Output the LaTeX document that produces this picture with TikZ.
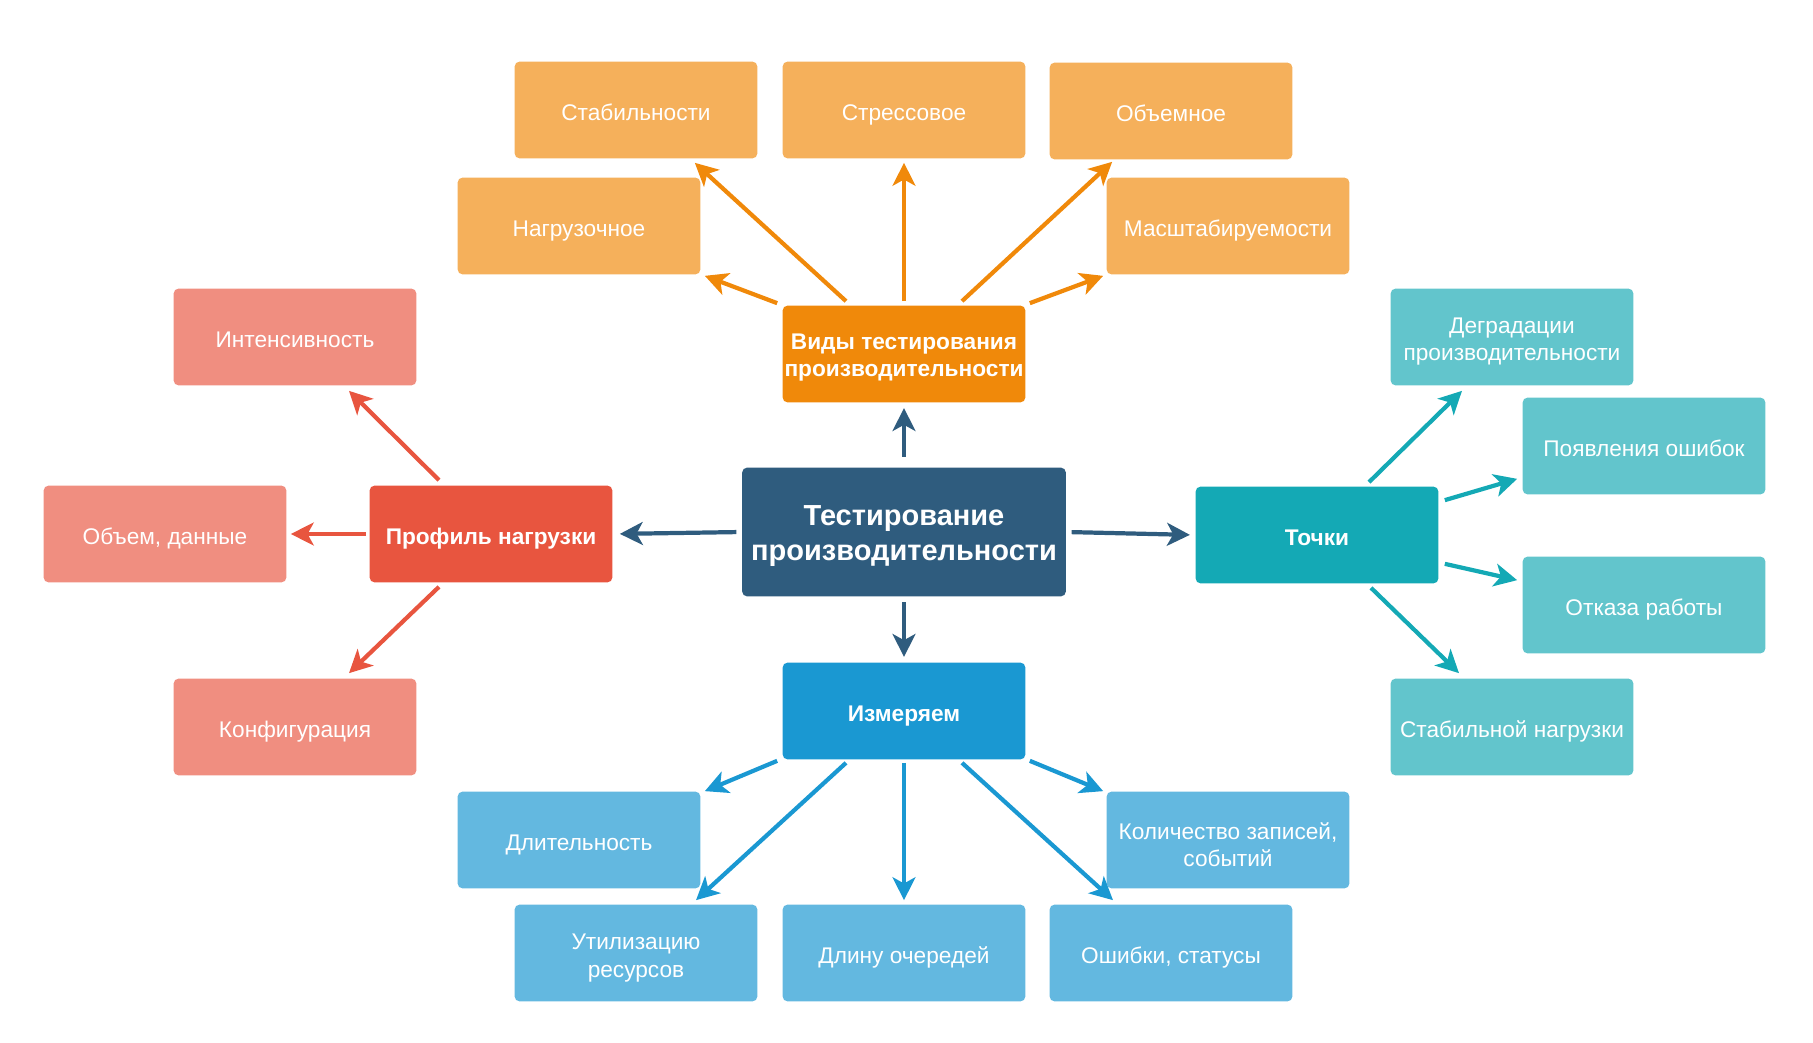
\documentclass[tikz,border=0pt]{standalone}
\usepackage{fontspec}
\setmainfont{Liberation Sans}
\usetikzlibrary{arrows.meta,calc,positioning}
\definecolor{mainblue}{HTML}{2F5C7E}
\definecolor{vidor}{HTML}{F0890A}
\definecolor{vidorl}{HTML}{F5B05B}
\definecolor{profred}{HTML}{E8553F}
\definecolor{profredl}{HTML}{F08E80}
\definecolor{tchteal}{HTML}{14A9B5}
\definecolor{tchteall}{HTML}{62C5CC}
\definecolor{izmblue}{HTML}{1A98D2}
\definecolor{izmbluel}{HTML}{63B8E0}
\newcommand{\toprule}[1]{\rule{0pt}{#1}}
\begin{document}
\begin{tikzpicture}[x=0.02cm,y=-0.02cm,
  box/.style={rounded corners=3pt, minimum width=4.86cm, minimum height=1.94cm, inner sep=0.5pt, align=center, text=white, font=\fontsize{12.9}{15.5}\selectfont},
  onebox/.style={box, text height=12pt, text depth=0.5pt},
  headbox/.style={onebox, font=\fontsize{12.9}{15.5}\selectfont\bfseries},
  arr/.style={line width=2.4pt, -{Stealth[length=13pt,width=13pt,inset=3.5pt]}}]
\useasboundingbox (0,0) rectangle (1813,1043);
\node[box, fill=mainblue, minimum width=6.48cm, minimum height=2.58cm, font=\fontsize{16.5}{19.5}\selectfont\bfseries] (main) at (904,532) {\toprule{16pt}Тестирование\\производительности};
\node[box, fill=vidor, font=\fontsize{12.9}{15.5}\selectfont\bfseries] (vid) at (904,354) {\toprule{13pt}Виды тестирования\\производительности};
\node[headbox, fill=profred] (prof) at (491,534) {Профиль нагрузки};
\node[headbox, fill=tchteal] (tochki) at (1317,535) {Точки};
\node[headbox, fill=izmblue] (izm) at (904,711) {Измеряем};
\node[onebox, fill=vidorl] (stab) at (636,110) {Стабильности};
\node[onebox, fill=vidorl] (stress) at (904,110) {Стрессовое};
\node[onebox, fill=vidorl] (obem) at (1171,111) {Объемное};
\node[onebox, fill=vidorl] (nagr) at (579,226) {Нагрузочное};
\node[onebox, fill=vidorl] (masht) at (1228,226) {Масштабируемости};
\node[onebox, fill=profredl] (intens) at (295,337) {Интенсивность};
\node[onebox, fill=profredl] (obdan) at (165,534) {Объем, данные};
\node[onebox, fill=profredl] (konf) at (295,727) {Конфигурация};
\node[box, fill=tchteall] (degr) at (1512,337) {\toprule{14.5pt}Деградации\\производительности};
\node[onebox, fill=tchteall] (poyav) at (1644,446) {Появления ошибок};
\node[onebox, fill=tchteall] (otkaz) at (1644,605) {Отказа работы};
\node[onebox, fill=tchteall] (stabn) at (1512,727) {Стабильной нагрузки};
\node[onebox, fill=izmbluel] (dlit) at (579,840) {Длительность};
\node[box, fill=izmbluel] (kolvo) at (1228,840) {\toprule{14.5pt}Количество записей,\\событий};
\node[box, fill=izmbluel] (util) at (636,953) {\toprule{14.5pt}Утилизацию\\ресурсов};
\node[onebox, fill=izmbluel] (dlinu) at (904,953) {Длину очередей};
\node[onebox, fill=izmbluel] (oshib) at (1171,953) {Ошибки, статусы};
\draw[arr, mainblue, shorten <=6pt, shorten >=3pt] (main.north) -- (vid.south);
\draw[arr, mainblue, shorten <=3pt, shorten >=3pt] (main.south) -- (izm.north);
\draw[arr, mainblue, shorten <=3pt, shorten >=4pt] (main.west) -- (prof.east);
\draw[arr, mainblue, shorten <=3pt, shorten >=3pt] (main.east) -- (tochki.west);
\draw[arr, vidor] ($(vid.north west)+(-5,-2)$) -- ($(nagr.south east)+(4,1)$);
\draw[arr, vidor] ($(vid.north)+(-58,-4)$) -- ($(stab.south east)+(-63,4)$);
\draw[arr, vidor] ($(vid.north)+(0,-4)$) -- ($(stress.south)+(0,4)$);
\draw[arr, vidor] ($(vid.north)+(58,-4)$) -- ($(obem.south west)+(63,2)$);
\draw[arr, vidor] ($(vid.north east)+(4,-2)$) -- ($(masht.south west)+(-3,1)$);
\draw[arr, profred] ($(prof.north)+(-52,-5)$) -- ($(intens.south)+(54,5)$);
\draw[arr, profred] ($(prof.west)+(-3,0)$) -- ($(obdan.east)+(4,0)$);
\draw[arr, profred] ($(prof.south)+(-52,4)$) -- ($(konf.north)+(54,-5)$);
\draw[arr, tchteal] ($(tochki.north)+(52,-4)$) -- ($(degr.south)+(-50,5)$);
\draw[arr, tchteal] ($(tochki.north east)+(6,14)$) -- ($(poyav.south west)+(-5,-16)$);
\draw[arr, tchteal] ($(tochki.south east)+(6,-20)$) -- ($(otkaz.north west)+(-5,24)$);
\draw[arr, tchteal] ($(tochki.south)+(54,4)$) -- ($(stabn.north)+(-53,-5)$);
\draw[arr, izmblue] ($(izm.south west)+(-5,1)$) -- ($(dlit.north east)+(4,0)$);
\draw[arr, izmblue] ($(izm.south)+(-58,3)$) -- ($(util.north)+(60,-4)$);
\draw[arr, izmblue] ($(izm.south)+(0,3)$) -- ($(dlinu.north)+(0,-4)$);
\draw[arr, izmblue] ($(izm.south)+(58,3)$) -- ($(oshib.north)+(-58,-4)$);
\draw[arr, izmblue] ($(izm.south east)+(4,1)$) -- ($(kolvo.north west)+(-3,0)$);
\end{tikzpicture}
\end{document}
